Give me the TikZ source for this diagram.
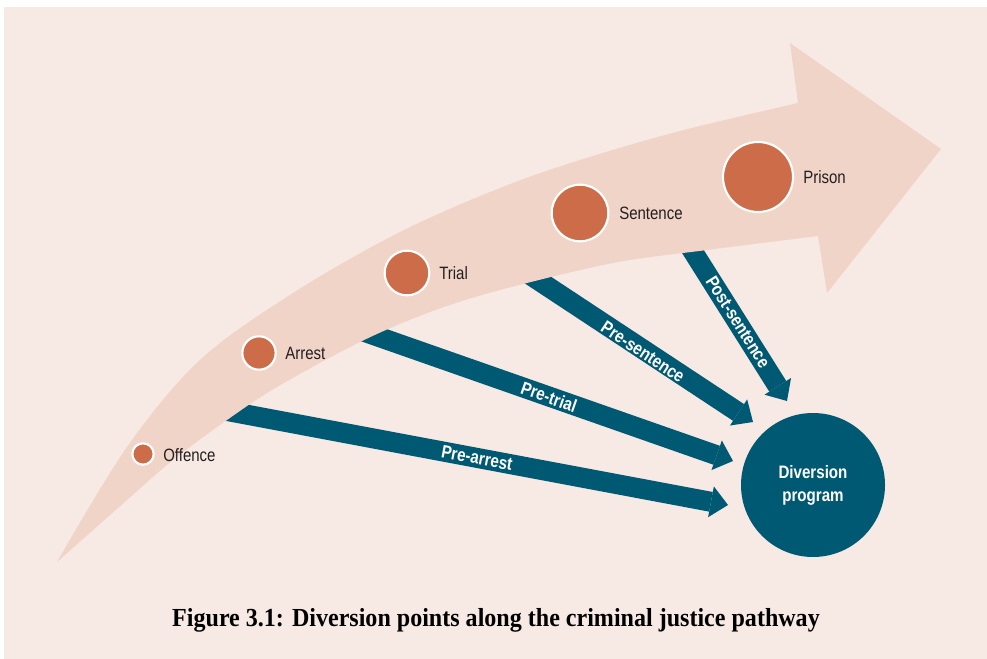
\documentclass[tikz,border=0pt]{standalone}
\usepackage{fontspec}
\setmainfont{Liberation Serif}
\newfontfamily\labfont[FakeStretch=0.84]{Liberation Sans}
\newfontfamily\capfont[FakeStretch=0.925]{Liberation Serif}
\usetikzlibrary{arrows.meta}
\definecolor{bgpink}{HTML}{F7E9E4}
\definecolor{bandpink}{HTML}{F0D4C8}
\definecolor{stationorange}{HTML}{CD6C48}
\definecolor{divblue}{HTML}{005973}
\definecolor{labelblack}{HTML}{231F20}
\begin{document}
\begin{tikzpicture}[x=0.75pt,y=-0.75pt,
  station/.style={circle,fill=stationorange,draw=white,line width=1.6pt,inner sep=0pt},
  stationlabel/.style={anchor=west,inner sep=0pt,text=labelblack,font=\labfont\fontsize{13.4}{15}\selectfont},
  divarrow/.style={draw=divblue,line width=15pt,-{Triangle[width=23.5pt,length=13pt,line width=0pt]}},
  arrowlabel/.style={inner sep=0pt,text=white,font=\labfont\bfseries\fontsize{13.6}{15}\selectfont},
  divnode/.style={circle,fill=divblue,inner sep=0pt,minimum size=108pt,text=white,align=center,font=\labfont\bfseries\fontsize{13.5}{17.25}\selectfont},
  captionnode/.style={inner sep=0pt,text=black,font=\capfont\bfseries\fontsize{19.5}{22}\selectfont}]

\useasboundingbox (0,0) rectangle (987,659);
\fill[white] (0,0) rectangle (987,659);
\fill[bgpink] (4,7) rectangle (987,659);

% connector ends
\coordinate (sA) at (190,404);
\coordinate (tA) at (728,505);
\coordinate (sT) at (342,324);
\coordinate (tT) at (733,461);
\coordinate (sS) at (512,263);
\coordinate (tS) at (753,422);
\coordinate (sP) at (680,231);
\coordinate (tP) at (787,401);

% diversion connectors (their starts are hidden under the pathway band)
\draw[divarrow] (sA) -- (tA);
\draw[divarrow] (sT) -- (tT);
\draw[divarrow] (sS) -- (tS);
\draw[divarrow] (sP) -- (tP);

% pathway band arrow
\fill[bandpink]
  plot[smooth,tension=0.55] coordinates {(57,562) (127,447) (200,360) (293,293) (400,232) (500,188) (580,160) (680,131) (798,103)}
  -- (790,43) -- (941,149) -- (827,293) --
  plot[smooth,tension=0.55] coordinates {(818,236) (707,250) (613,263) (500,290) (430,312) (360,342) (277,387) (227,420) (173,460) (127,500) (57,562)}
  -- cycle;

% stations
\node[station,minimum size=16pt] (off) at (143,454) {};
\node[station,minimum size=25pt] (arr) at (259,353) {};
\node[station,minimum size=33.5pt] (tri) at (407,273) {};
\node[station,minimum size=42.5pt] (sen) at (580,213) {};
\node[station,minimum size=52.5pt] (pri) at (758,177) {};

\node[stationlabel] (offl) at (163,455) {Offence};
\node[stationlabel] (arrl) at (285,353) {Arrest};
\node[stationlabel] (tril) at (439,273) {Trial};
\node[stationlabel] (senl) at (619,213) {Sentence};
\node[stationlabel] (pril) at (803,177) {Prison};

% connector labels
\node[arrowlabel,rotate=-10.65] (lA) at (477,458) {Pre-arrest};
\node[arrowlabel,rotate=-19.3] (lT) at (549,397) {Pre-trial};
\node[arrowlabel,rotate=-33.4] (lS) at (643,352) {Pre-sentence};
\node[arrowlabel,rotate=-57.8] (lP) at (738,322) {Post-sentence};

% diversion program
\node[divnode] (div) at (813,485) {Diversion\\program};

% caption
\node[captionnode] (cap) at (496,620) {Figure 3.1: Diversion points along the criminal justice pathway};
\end{tikzpicture}
\end{document}
